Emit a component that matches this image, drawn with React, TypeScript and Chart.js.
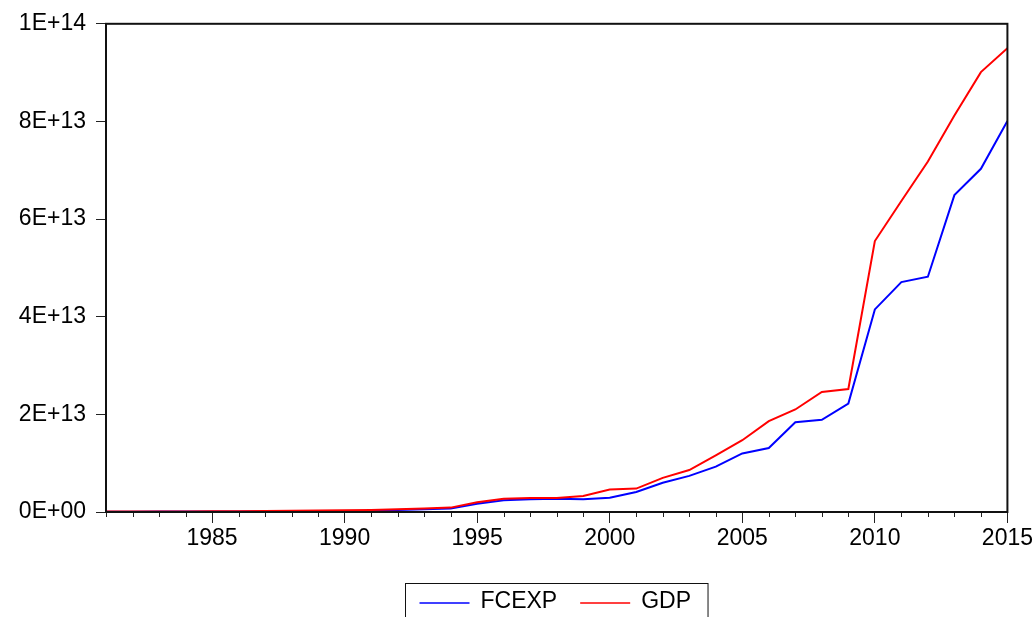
import React, { useEffect, useRef } from 'react';
import { Chart, registerables } from 'chart.js';

Chart.register(...registerables);

const years = [
  1981, 1982, 1983, 1984, 1985, 1986, 1987, 1988, 1989, 1990,
  1991, 1992, 1993, 1994, 1995, 1996, 1997, 1998, 1999, 2000,
  2001, 2002, 2003, 2004, 2005, 2006, 2007, 2008, 2009, 2010,
  2011, 2012, 2013, 2014, 2015,
];

const fcexp = [
  0.06e12, 0.07e12, 0.08e12, 0.09e12, 0.1e12, 0.1e12, 0.13e12, 0.18e12, 0.2e12, 0.22e12,
  0.25e12, 0.42e12, 0.55e12, 0.7e12, 1.7e12, 2.4e12, 2.6e12, 2.7e12, 2.6e12, 2.9e12,
  4.1e12, 6.0e12, 7.4e12, 9.3e12, 12.0e12, 13.1e12, 18.4e12, 18.9e12, 22.2e12, 41.5e12,
  47.1e12, 48.2e12, 64.9e12, 70.3e12, 80.1e12,
];

const gdp = [
  0.09e12, 0.1e12, 0.11e12, 0.12e12, 0.13e12, 0.13e12, 0.19e12, 0.26e12, 0.3e12, 0.35e12,
  0.4e12, 0.55e12, 0.7e12, 0.9e12, 2.0e12, 2.7e12, 2.85e12, 2.85e12, 3.3e12, 4.6e12,
  4.8e12, 7.0e12, 8.6e12, 11.6e12, 14.7e12, 18.6e12, 21.0e12, 24.6e12, 25.2e12, 55.5e12,
  63.7e12, 71.8e12, 81.2e12, 90.1e12, 95.0e12,
];

const seriesNames = ['FCEXP', 'GDP'];
const seriesColors = ['#0000FF', '#FF0000'];
const majorYears = [1985, 1990, 1995, 2000, 2005, 2010, 2015];
const yTickValues = [0, 2e13, 4e13, 6e13, 8e13, 1e14];

const FONT = '"Liberation Sans", Arial, sans-serif';

function sciLabel(v: number): string {
  if (v === 0) return '0E+00';
  const exp = Math.floor(Math.log10(v) + 1e-9);
  const m = Math.round((v / Math.pow(10, exp)) * 100) / 100;
  return `${m}E+${exp < 10 ? '0' + exp : exp}`;
}

const framePlugin = {
  id: 'frameAndExtras',
  afterDraw(chart: any) {
    const { ctx, chartArea } = chart;
    const { left, right, top, bottom } = chartArea;
    ctx.save();
    // minor x ticks
    const xs = chart.scales.x;
    ctx.strokeStyle = '#222';
    ctx.lineWidth = 1;
    years.forEach((y) => {
      if (majorYears.includes(y)) return;
      const px = Math.round(xs.getPixelForValue(y)) + 0.5;
      ctx.beginPath();
      ctx.moveTo(px, bottom);
      ctx.lineTo(px, bottom + 5);
      ctx.stroke();
    });
    // frame
    ctx.strokeStyle = '#111';
    ctx.lineWidth = 2;
    ctx.strokeRect(left, top, right - left, bottom - top);

    // legend
    const fontSize = 23;
    ctx.font = `${fontSize}px ${FONT}`;
    const lineLen = 50;
    const padL = 14;
    const padR = 17;
    const gapText = 11;
    const gapItem = 23;
    const widths = seriesNames.map((n) => ctx.measureText(n).width);
    const total =
      padL + padR + widths.reduce((a, w) => a + lineLen + gapText + w, 0) + gapItem * (seriesNames.length - 1);
    const cx = (left + right) / 2;
    const boxL = Math.round(cx - total / 2) + 0.5;
    const boxT = 583.5;
    ctx.strokeStyle = '#111';
    ctx.lineWidth = 1;
    ctx.strokeRect(boxL, boxT, total, 60);
    let x = boxL + padL;
    const ly = boxT + 19.5;
    seriesNames.forEach((n, i) => {
      ctx.strokeStyle = seriesColors[i];
      ctx.lineWidth = 1.5;
      ctx.beginPath();
      ctx.moveTo(x, ly);
      ctx.lineTo(x + lineLen, ly);
      ctx.stroke();
      x += lineLen + gapText;
      ctx.fillStyle = '#000';
      ctx.textBaseline = 'middle';
      ctx.textAlign = 'left';
      ctx.fillText(n, x, ly - 1);
      x += widths[i] + gapItem;
    });
    ctx.restore();
  },
};

export default function App() {
  const ref = useRef<HTMLCanvasElement | null>(null);

  useEffect(() => {
    if (!ref.current) return;
    const chart = new Chart(ref.current, {
      type: 'line',
      data: {
        labels: years,
        datasets: [
          {
            label: seriesNames[0],
            data: years.map((y, i) => ({ x: y, y: fcexp[i] })),
            borderColor: seriesColors[0],
            backgroundColor: seriesColors[0],
            borderWidth: 2,
            pointRadius: 0,
            tension: 0,
            order: 1,
          },
          {
            label: seriesNames[1],
            data: years.map((y, i) => ({ x: y, y: gdp[i] })),
            borderColor: seriesColors[1],
            backgroundColor: seriesColors[1],
            borderWidth: 2,
            pointRadius: 0,
            tension: 0,
            order: 0,
          },
        ],
      },
      options: {
        responsive: false,
        animation: false,
        events: [],
        layout: { padding: { left: 0, top: 22, right: 27, bottom: 0 } },
        plugins: {
          legend: { display: false },
          tooltip: { enabled: false },
        },
        scales: {
          x: {
            type: 'linear',
            min: 1981,
            max: 2015,
            afterBuildTicks: (scale: any) => {
              scale.ticks = years.map((v) => ({ value: v }));
            },
            afterFit: (scale: any) => {
              scale.height = 105;
            },
            border: { display: false },
            grid: {
              drawOnChartArea: false,
              drawTicks: true,
              tickLength: 11,
              tickWidth: 1,
              tickColor: (c: any) =>
                c.tick && majorYears.includes(c.tick.value) ? '#222' : 'rgba(0,0,0,0)',
            },
            ticks: {
              autoSkip: false,
              maxRotation: 0,
              minRotation: 0,
              padding: 2,
              color: '#000',
              font: { family: FONT, size: 23 },
              callback: (v: any) => (majorYears.includes(Number(v)) ? String(v) : ''),
            },
          },
          y: {
            type: 'linear',
            min: 0,
            max: 1e14,
            afterBuildTicks: (scale: any) => {
              scale.ticks = yTickValues.map((v) => ({ value: v }));
            },
            afterFit: (scale: any) => {
              scale.width = 106;
            },
            border: { display: false },
            grid: {
              drawOnChartArea: false,
              drawTicks: true,
              tickLength: 10,
              tickWidth: 1,
              tickColor: '#222',
            },
            ticks: {
              padding: 10,
              color: '#000',
              font: { family: FONT, size: 23 },
              callback: (v: any) => sciLabel(Number(v)),
            },
          },
        },
      },
      plugins: [framePlugin],
    });
    return () => chart.destroy();
  }, []);

  return (
    <div style={{ position: 'absolute', left: 0, top: 0, width: 1035, height: 617, background: '#fff' }}>
      <canvas ref={ref} width={1035} height={617} style={{ display: 'block' }} />
    </div>
  );
}
